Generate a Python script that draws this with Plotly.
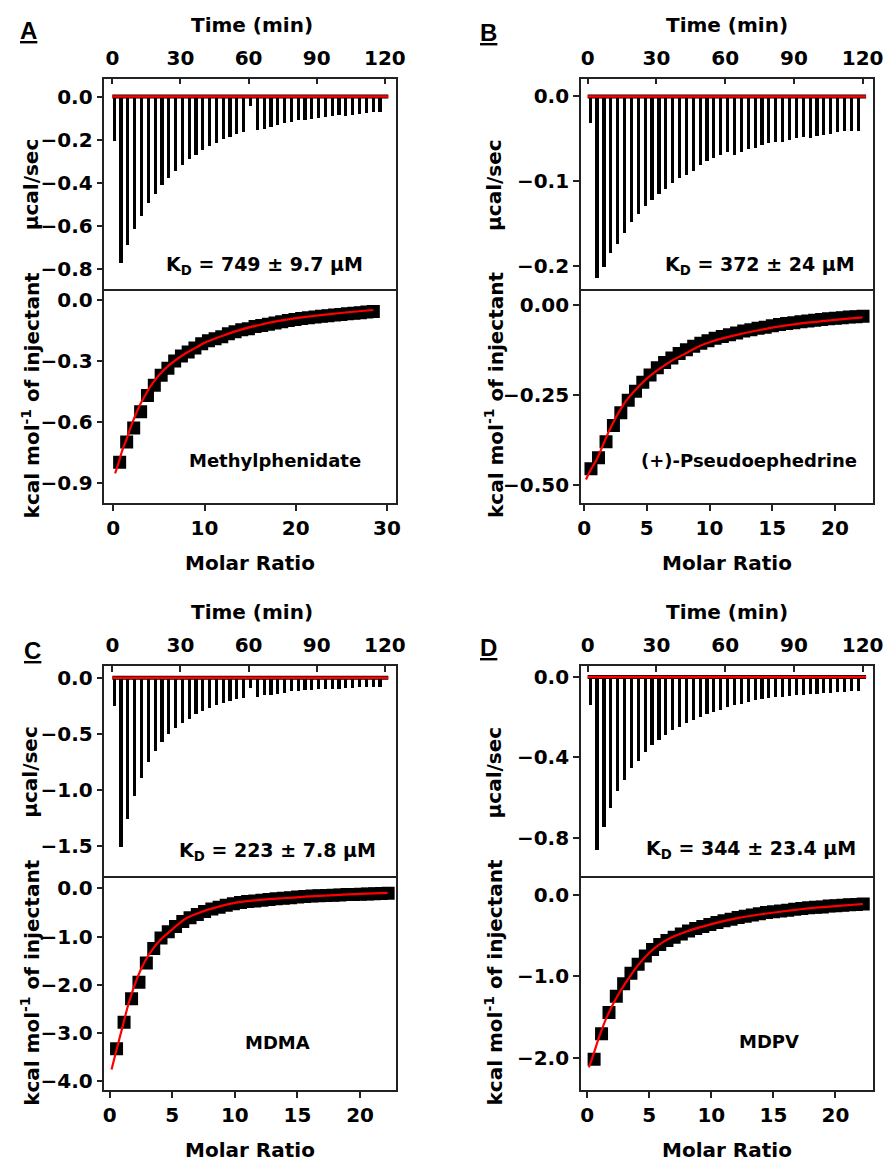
import plotly.graph_objects as go

W, H = 894, 1166
FONT = "DejaVu Sans"

# ---- raw thermograms: injection times (min) and peak heights (µcal/sec) ----
inj_time = [1, 4, 7, 10, 13, 16, 19, 22, 25, 28, 31, 34, 37, 40, 43, 46, 49, 52, 55, 58,
            61, 64, 67, 70, 73, 76, 79, 82, 85, 88, 91, 94, 97, 100, 103, 106, 109, 112, 115, 118]

peaks_A = [-0.205, -0.772, -0.686, -0.611, -0.551, -0.494, -0.449, -0.409, -0.375, -0.343,
           -0.314, -0.289, -0.269, -0.246, -0.229, -0.214, -0.197, -0.188, -0.171, -0.163,
           -0.042, -0.152, -0.149, -0.138, -0.129, -0.123, -0.117, -0.109, -0.106, -0.103,
           -0.098, -0.094, -0.089, -0.086, -0.088, -0.083, -0.080, -0.075, -0.071, -0.072]
peaks_B = [-0.031, -0.214, -0.201, -0.184, -0.173, -0.160, -0.148, -0.138, -0.129, -0.122,
           -0.115, -0.109, -0.102, -0.096, -0.092, -0.087, -0.080, -0.076, -0.072, -0.068,
           -0.065, -0.069, -0.065, -0.061, -0.060, -0.057, -0.055, -0.053, -0.053, -0.051,
           -0.049, -0.047, -0.049, -0.046, -0.045, -0.044, -0.042, -0.040, -0.040, -0.040]
peaks_C = [-0.255, -1.512, -1.263, -1.055, -0.892, -0.753, -0.655, -0.575, -0.504, -0.454,
           -0.409, -0.365, -0.329, -0.294, -0.267, -0.243, -0.222, -0.208, -0.187, -0.181,
           -0.089, -0.169, -0.157, -0.151, -0.142, -0.133, -0.122, -0.116, -0.113, -0.110,
           -0.104, -0.101, -0.098, -0.098, -0.092, -0.089, -0.086, -0.083, -0.080, -0.080]
peaks_D = [-0.140, -0.858, -0.744, -0.652, -0.569, -0.511, -0.455, -0.416, -0.374, -0.341,
           -0.313, -0.289, -0.266, -0.247, -0.231, -0.214, -0.201, -0.186, -0.173, -0.163,
           -0.148, -0.140, -0.134, -0.124, -0.117, -0.111, -0.107, -0.102, -0.099, -0.094,
           -0.092, -0.089, -0.084, -0.084, -0.081, -0.078, -0.074, -0.073, -0.069, -0.069]

baseline_time = [0.0, 121.5]
baseline_level = [0.0, 0.0]

# ---- integrated heats (kcal/mol of injectant) vs molar ratio ----
ratio_A = [0.70, 1.47, 2.24, 3.00, 3.75, 4.50, 5.25, 5.99, 6.73, 7.47,
           8.21, 8.95, 9.69, 10.43, 11.16, 11.89, 12.62, 13.35, 14.08, 14.81,
           15.54, 16.27, 17.00, 17.73, 18.46, 19.19, 19.92, 20.65, 21.38, 22.11,
           22.82, 23.53, 24.24, 24.95, 25.66, 26.37, 27.08, 27.79, 28.50]
ratio_BCD = [0.55, 1.15, 1.75, 2.34, 2.93, 3.52, 4.10, 4.68, 5.26, 5.84,
             6.42, 7.00, 7.58, 8.16, 8.74, 9.31, 9.88, 10.45, 11.02, 11.59,
             12.16, 12.73, 13.30, 13.87, 14.44, 15.01, 15.58, 16.15, 16.72, 17.29,
             17.84, 18.39, 18.94, 19.49, 20.04, 20.59, 21.14, 21.69, 22.24]

heat_A = [-0.80, -0.70, -0.63, -0.55, -0.47, -0.42, -0.37, -0.335, -0.30, -0.275,
          -0.255, -0.235, -0.215, -0.20, -0.19, -0.18, -0.165, -0.155, -0.145, -0.14,
          -0.13, -0.125, -0.118, -0.112, -0.106, -0.10, -0.095, -0.09, -0.086, -0.082,
          -0.079, -0.076, -0.073, -0.070, -0.067, -0.064, -0.061, -0.058, -0.055]
heat_B = [-0.455, -0.425, -0.38, -0.335, -0.30, -0.265, -0.24, -0.215, -0.195, -0.175,
          -0.16, -0.148, -0.135, -0.125, -0.115, -0.107, -0.10, -0.093, -0.088, -0.083,
          -0.078, -0.073, -0.069, -0.065, -0.062, -0.058, -0.055, -0.052, -0.05, -0.047,
          -0.045, -0.043, -0.041, -0.039, -0.037, -0.036, -0.034, -0.033, -0.032]
heat_C = [-3.33, -2.78, -2.29, -1.95, -1.55, -1.25, -1.03, -0.90, -0.79, -0.69,
          -0.61, -0.54, -0.48, -0.43, -0.39, -0.35, -0.32, -0.295, -0.275, -0.26,
          -0.245, -0.23, -0.215, -0.205, -0.195, -0.18, -0.17, -0.16, -0.155, -0.148,
          -0.142, -0.136, -0.13, -0.125, -0.12, -0.115, -0.11, -0.107, -0.104]
heat_D = [-2.01, -1.70, -1.44, -1.24, -1.09, -0.96, -0.85, -0.75, -0.67, -0.61,
          -0.56, -0.52, -0.48, -0.445, -0.415, -0.39, -0.365, -0.34, -0.32, -0.30,
          -0.28, -0.265, -0.25, -0.235, -0.22, -0.21, -0.20, -0.19, -0.18, -0.17,
          -0.16, -0.155, -0.15, -0.14, -0.135, -0.13, -0.125, -0.12, -0.115]

# ---- one-site model fits ----
fit_ratio_A = [0.2, 0.6, 1.0, 1.5, 2.0, 2.5, 3.0, 3.5, 4.0, 5.0, 6.0, 7.0, 8.0, 9.0, 10,
               12, 14, 16, 18, 20, 22, 24, 26, 28.5]
fit_heat_A = [-0.855, -0.80, -0.74, -0.68, -0.615, -0.56, -0.51, -0.47, -0.43, -0.37,
              -0.325, -0.29, -0.26, -0.235, -0.21, -0.175, -0.145, -0.122, -0.103, -0.088,
              -0.077, -0.067, -0.058, -0.048]
fit_ratio_B = [0.15, 0.5, 1.0, 1.5, 2.0, 2.5, 3.0, 3.5, 4.0, 5.0, 6.0, 7.0, 8.0, 9.0, 10,
               12, 14, 16, 18, 20, 22.2]
fit_heat_B = [-0.485, -0.46, -0.43, -0.39, -0.35, -0.315, -0.285, -0.26, -0.24, -0.205,
              -0.178, -0.155, -0.137, -0.118, -0.104, -0.085, -0.07, -0.058, -0.049, -0.042,
              -0.035]
fit_ratio_C = [0.15, 0.5, 1.0, 1.5, 2.0, 2.5, 3.0, 3.5, 4.0, 5.0, 6.0, 7.0, 8.0, 10,
               12, 14, 16, 18, 20, 22.2]
fit_heat_C = [-3.76, -3.4, -2.9, -2.4, -2.0, -1.68, -1.43, -1.24, -1.08, -0.85,
              -0.64, -0.52, -0.43, -0.30, -0.24, -0.20, -0.165, -0.14, -0.115, -0.095]
fit_ratio_D = [0.13, 0.5, 1.0, 1.5, 2.0, 2.5, 3.0, 4.0, 5.0, 6.0, 7.0, 8.0, 10,
               12, 14, 16, 18, 20, 22.2]
fit_heat_D = [-2.11, -1.95, -1.72, -1.52, -1.36, -1.22, -1.10, -0.88, -0.71, -0.59,
              -0.51, -0.45, -0.36, -0.29, -0.24, -0.20, -0.165, -0.14, -0.115]

panels = [
    dict(letter="A", name="Methylphenidate", kd="K<sub>D</sub> = 749 ± 9.7 μM",
         peaks=peaks_A, ratio=ratio_A, heat=heat_A, fr=fit_ratio_A, fh=fit_heat_A,
         xpx=(102, 398), ypx=(77, 290, 503),
         t_range=[-3.5, 124.8], raw_range=[-0.9, 0.083], raw_ticks=[0, -0.2, -0.4, -0.6, -0.8], raw_fmt=".1f",
         mr_range=[-0.97, 30.96], mr_ticks=[0, 10, 20, 30],
         heat_range=[-1.0, 0.047], heat_ticks=[0, -0.3, -0.6, -0.9], heat_fmt=".1f",
         letter_xy=(25, 29), time_xy=(252, 23), kd_xy=(265, 265), name_xy=(275, 460),
         molar_xy=(250, 563), ytitle_x=27),
    dict(letter="B", name="(+)-Pseudoephedrine", kd="K<sub>D</sub> = 372 ± 24 μM",
         peaks=peaks_B, ratio=ratio_BCD, heat=heat_B, fr=fit_ratio_B, fh=fit_heat_B,
         xpx=(586, 883), ypx=(77, 290, 503),
         t_range=[-3.0, 124.6], raw_range=[-0.229, 0.021], raw_ticks=[0, -0.1, -0.2], raw_fmt=".1f",
         mr_range=[-0.26, 23.05], mr_ticks=[0, 5, 10, 15, 20],
         heat_range=[-0.55, 0.039], heat_ticks=[0, -0.25, -0.5], heat_fmt=".2f",
         letter_xy=(492, 31), time_xy=(735, 23), kd_xy=(768, 265), name_xy=(757, 460),
         molar_xy=(734, 563), ytitle_x=498),
    dict(letter="C", name="MDMA", kd="K<sub>D</sub> = 223 ± 7.8 μM",
         peaks=peaks_C, ratio=ratio_BCD, heat=heat_C, fr=fit_ratio_C, fh=fit_heat_C,
         xpx=(102, 398), ypx=(667, 880, 1093),
         t_range=[-3.5, 124.8], raw_range=[-1.79, 0.104], raw_ticks=[0, -0.5, -1.0, -1.5], raw_fmt=".1f",
         mr_range=[-0.42, 22.85], mr_ticks=[0, 5, 10, 15, 20],
         heat_range=[-4.19, 0.21], heat_ticks=[0, -1, -2, -3, -4], heat_fmt=".1f",
         letter_xy=(29, 651), time_xy=(252, 613), kd_xy=(278, 853), name_xy=(278, 1045),
         molar_xy=(250, 1153), ytitle_x=27),
    dict(letter="D", name="MDPV", kd="K<sub>D</sub> = 344 ± 23.4 μM",
         peaks=peaks_D, ratio=ratio_BCD, heat=heat_D, fr=fit_ratio_D, fh=fit_heat_D,
         xpx=(586, 883), ypx=(667, 880, 1093),
         t_range=[-3.0, 124.6], raw_range=[-1.0, 0.054], raw_ticks=[0, -0.4, -0.8], raw_fmt=".1f",
         mr_range=[-0.52, 23.04], mr_ticks=[0, 5, 10, 15, 20],
         heat_range=[-2.39, 0.20], heat_ticks=[0, -1, -2], heat_fmt=".1f",
         letter_xy=(492, 648), time_xy=(735, 613), kd_xy=(759, 851), name_xy=(777, 1044),
         molar_xy=(734, 1153), ytitle_x=498),
]


def px(x, y):
    return x / W, 1 - y / H


tick_font = dict(family=FONT, size=20, color="black", weight="bold")
axis_common = dict(showline=True, linecolor="#222", linewidth=1.5,
                   showgrid=False, zeroline=False, tickfont=tick_font,
                   tickcolor="#222", tickwidth=1.5, ticklen=6)

fig = go.Figure()
layout = dict(width=W, height=H, margin=dict(l=0, r=0, t=0, b=0),
              paper_bgcolor="white", plot_bgcolor="white", showlegend=False,
              bargap=0, annotations=[])

for i, p in enumerate(panels):
    xt, yt = f"x{2*i+1}", f"y{2*i+1}"
    xb, yb = f"x{2*i+2}", f"y{2*i+2}"
    x0, x1 = p["xpx"]
    ytop, ymid, ybot = p["ypx"]
    xdom = [x0 / W, x1 / W]

    # raw heat-flow trace
    fig.add_trace(go.Bar(x=inj_time, y=p["peaks"], width=1.4, marker=dict(color="black", line_width=0),
                         xaxis=xt, yaxis=yt))
    fig.add_trace(go.Scatter(x=baseline_time, y=baseline_level, mode="lines",
                             line=dict(color="black", width=4), xaxis=xt, yaxis=yt))
    fig.add_trace(go.Scatter(x=baseline_time, y=baseline_level, mode="lines",
                             line=dict(color="red", width=2.5), xaxis=xt, yaxis=yt))
    # integrated heats and fit
    fig.add_trace(go.Scatter(x=p["ratio"], y=p["heat"], mode="markers",
                             marker=dict(symbol="square", size=13, color="black"),
                             xaxis=xb, yaxis=yb))
    fig.add_trace(go.Scatter(x=p["fr"], y=p["fh"], mode="lines", line_shape="spline",
                             line=dict(color="red", width=2.2), xaxis=xb, yaxis=yb))

    # top panel: time axis on top, its lower edge is drawn by the lower panel
    layout[f"xaxis{2*i+1}"] = dict(axis_common, domain=xdom, anchor=yt, side="top", mirror=False,
                                   range=p["t_range"], tickvals=[0, 30, 60, 90, 120],
                                   ticks="inside", ticklabelstandoff=4)
    layout[f"yaxis{2*i+1}"] = dict(axis_common, domain=[1 - ymid / H, 1 - ytop / H], anchor=xt,
                                   mirror=True, range=p["raw_range"], tickvals=p["raw_ticks"],
                                   tickformat=p["raw_fmt"], ticks="outside")
    layout[f"xaxis{2*i+2}"] = dict(axis_common, domain=xdom, anchor=yb, mirror=True,
                                   range=p["mr_range"], tickvals=p["mr_ticks"], ticks="outside")
    layout[f"yaxis{2*i+2}"] = dict(axis_common, domain=[1 - ybot / H, 1 - ymid / H], anchor=xb,
                                   mirror=True, range=p["heat_range"], tickvals=p["heat_ticks"],
                                   tickformat=p["heat_fmt"], ticks="outside")

    def note(text, xy, size=20, angle=0, family=FONT):
        ax, ay = px(*xy)
        layout["annotations"].append(dict(
            text=text, x=ax, y=ay, xref="paper", yref="paper", showarrow=False,
            xanchor="center", yanchor="middle", textangle=angle,
            font=dict(family=family, size=size, color="black", weight="bold")))

    note(f"<u>{p['letter']}</u>", p["letter_xy"], size=24, family="Liberation Sans")
    note("Time (min)", p["time_xy"])
    note("Molar Ratio", p["molar_xy"])
    note(p["kd"], p["kd_xy"], size=19)
    note(p["name"], p["name_xy"], size=18)
    note("µcal/sec", (p["ytitle_x"], (ytop + ymid) / 2), angle=-90)
    note("kcal mol<sup>-1</sup> of injectant", (p["ytitle_x"], (ymid + ybot) / 2 - 2), angle=-90)

fig.update_layout(**layout)
fig.write_html("out.html")
